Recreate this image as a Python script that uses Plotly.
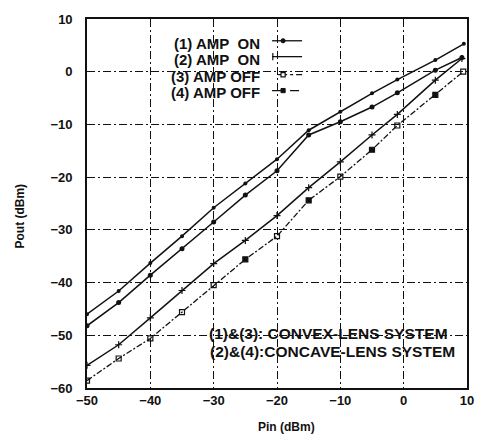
import plotly.graph_objects as go

# ---- data ----
pin_1 = [-50, -45, -40, -35, -30, -25, -20, -15, -10, -5, -1, 5, 9.5]
pout_1 = [-46.0, -41.6, -36.3, -31.2, -25.8, -21.2, -16.6, -11.1, -7.6, -4.1, -1.5, 2.2, 5.3]

pin_2 = [-50, -45, -40, -35, -30, -25, -20, -15, -10, -5, -1, 5, 9.2]
pout_2 = [-48.2, -43.8, -38.6, -33.6, -28.5, -23.4, -18.8, -12.0, -9.5, -6.7, -4.0, 0.3, 2.7]

pin_3 = [-50, -45, -40, -35, -30, -25, -20, -15, -10, -5, -1, 5, 9.2]
pout_3 = [-55.7, -51.8, -46.7, -41.5, -36.4, -32.0, -27.3, -22.0, -17.1, -12.0, -8.1, -1.6, 2.5]

pin_4 = [-50, -45, -40, -35, -30, -25, -20, -15, -10, -5, -1, 5, 9.4]
pout_4 = [-58.6, -54.4, -50.6, -45.6, -40.5, -35.6, -31.2, -24.4, -19.9, -14.8, -10.2, -4.4, 0.0]

x_ticks = [-50, -40, -30, -20, -10, 0, 10]
y_ticks = [10, 0, -10, -20, -30, -40, -50, -60]

legend_labels = ["(1) AMP\u00a0\u00a0ON", "(2) AMP\u00a0\u00a0ON", "(3) AMP OFF", "(4) AMP OFF"]
note_lines = ["(1)&(3): CONVEX-LENS SYSTEM", "(2)&(4):CONCAVE-LENS SYSTEM"]

FONT = "Liberation Sans, Arial, Helvetica, sans-serif"
BLACK = "#111111"

sq_symbols = ["square-open"] * len(pin_4)
for i, x in enumerate(pin_4):
    if x in (-25, -15, -5, 5):
        sq_symbols[i] = "square"

fig = go.Figure()
fig.add_trace(go.Scatter(
    x=pin_1, y=pout_1, mode="lines+markers", name=legend_labels[0],
    line=dict(color=BLACK, width=1.5),
    marker=dict(symbol="circle", size=4, color=BLACK)))
fig.add_trace(go.Scatter(
    x=pin_2, y=pout_2, mode="lines+markers", name=legend_labels[3],
    line=dict(color=BLACK, width=1.5),
    marker=dict(symbol="circle", size=5, color=BLACK)))
fig.add_trace(go.Scatter(
    x=pin_3, y=pout_3, mode="lines+markers", name=legend_labels[1],
    line=dict(color=BLACK, width=1.5),
    marker=dict(symbol="cross-thin", size=5, color=BLACK,
                line=dict(color=BLACK, width=1.2))))
fig.add_trace(go.Scatter(
    x=pin_4, y=pout_4, mode="lines+markers", name=legend_labels[2],
    line=dict(color=BLACK, width=1.3, dash="6px,2px,2px,2px"),
    marker=dict(symbol=sq_symbols, size=5, color=BLACK,
                line=dict(color=BLACK, width=1.2))))

axis_common = dict(
    showgrid=True, gridcolor=BLACK, gridwidth=1.1, griddash="8px,3px,2px,3px",
    showline=True, linecolor=BLACK, linewidth=1.6, mirror=True,
    zeroline=False, ticks="",
    tickfont=dict(family=FONT, size=13, color=BLACK, weight="bold"),
)
fig.update_xaxes(range=[-50, 10], tickvals=x_ticks, **axis_common)
fig.update_yaxes(range=[-60, 10], tickvals=y_ticks, ticklabelstandoff=10, **axis_common)

# axis titles
fig.add_annotation(xref="paper", yref="paper", x=0.524, y=-0.105, text="Pin (dBm)",
                   xanchor="center", yanchor="middle", showarrow=False,
                   font=dict(family=FONT, size=12, color=BLACK, weight="bold"))
fig.add_annotation(xref="paper", yref="paper", x=-0.176, y=0.465, text="Pout (dBm)",
                   textangle=-90, xanchor="center", yanchor="middle", showarrow=False,
                   font=dict(family=FONT, size=12, color=BLACK, weight="bold"))

# manual legend: text on the left, line sample on the right
leg_text_y = [0.934, 0.889, 0.843, 0.800]
leg_line_y = [0.941, 0.898, 0.849, 0.806]
leg_dash = ["solid", "solid", "dashdot", "dash"]
for i, lab in enumerate(legend_labels):
    fig.add_annotation(xref="paper", yref="paper", x=0.461, y=leg_text_y[i], text=lab,
                       xanchor="right", yanchor="middle", showarrow=False,
                       font=dict(family=FONT, size=15, color=BLACK, weight="bold"))
    x0 = 0.487 if i != 2 else 0.503
    fig.add_shape(type="line", xref="paper", yref="paper", x0=x0, x1=0.566,
                  y0=leg_line_y[i], y1=leg_line_y[i], line=dict(color=BLACK, width=1.3, dash=leg_dash[i]))
mx, hw, hh = 0.516, 0.0055, 0.0057
fig.add_shape(type="circle", xref="paper", yref="paper", x0=mx - hw, x1=mx + hw,
              y0=leg_line_y[0] - hh, y1=leg_line_y[0] + hh, fillcolor=BLACK, line=dict(color=BLACK, width=1))
fig.add_shape(type="line", xref="paper", yref="paper", x0=0.489, x1=0.489,
              y0=leg_line_y[1] - 0.01, y1=leg_line_y[1] + 0.01, line=dict(color=BLACK, width=1.2))
fig.add_shape(type="rect", xref="paper", yref="paper", x0=mx - hw, x1=mx + hw,
              y0=leg_line_y[2] - hh, y1=leg_line_y[2] + hh, fillcolor="white", line=dict(color=BLACK, width=1.2))
fig.add_shape(type="rect", xref="paper", yref="paper", x0=mx - hw, x1=mx + hw,
              y0=leg_line_y[3] - hh, y1=leg_line_y[3] + hh, fillcolor=BLACK, line=dict(color=BLACK, width=1))

# system notes
fig.add_annotation(xref="paper", yref="paper", x=0.316, y=0.148, text=note_lines[0],
                   xanchor="left", yanchor="middle", showarrow=False,
                   font=dict(family=FONT, size=15.5, color=BLACK, weight="bold"))
fig.add_annotation(xref="paper", yref="paper", x=0.318, y=0.098, text=note_lines[1],
                   xanchor="left", yanchor="middle", showarrow=False,
                   font=dict(family=FONT, size=15.5, color=BLACK, weight="bold"))

fig.update_layout(
    width=489, height=445, autosize=False,
    margin=dict(l=87, r=22, t=16, b=57),
    paper_bgcolor="white", plot_bgcolor="white",
    showlegend=False,
    font=dict(family=FONT, color=BLACK),
)

fig.write_html("out.html", config={"displayModeBar": False},
               post_script="document.body.style.margin='0';")
